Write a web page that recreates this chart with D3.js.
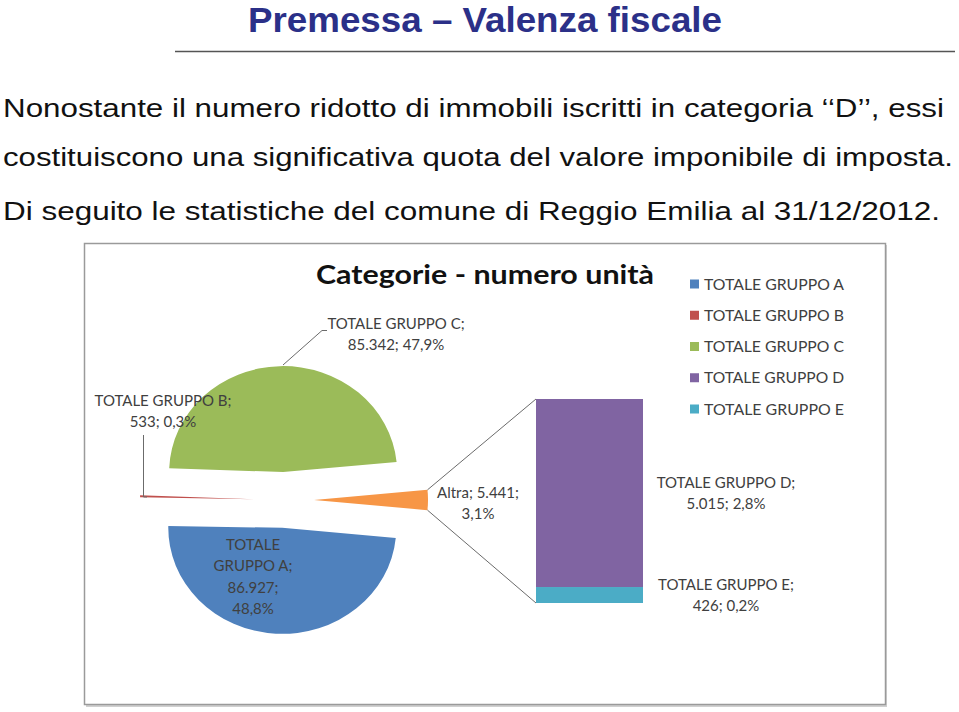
<!DOCTYPE html>
<html><head><meta charset="utf-8">
<script src="https://cdn.jsdelivr.net/npm/d3@7"></script>
<style>html,body{margin:0;padding:0;background:#fff;overflow:hidden}</style>
</head><body>
<svg id="c" width="959" height="712"></svg>
<script>
// ---- data ----
const categories = ["TOTALE GRUPPO A","TOTALE GRUPPO B","TOTALE GRUPPO C","TOTALE GRUPPO D","TOTALE GRUPPO E"];
const values = [86927, 533, 85342, 5015, 426];
const valueLabels = ["86.927","533","85.342","5.015","426"];
const percentLabels = ["48,8%","0,3%","47,9%","2,8%","0,2%"];
const otherName = "Altra";
const otherValue = 5441;
const otherValueLabel = "5.441";
const otherPercentLabel = "3,1%";
const pieCats = [0,1,2];     // indices shown in the pie
const barCats = [3,4];       // indices stacked in the bar ("Altra")
const colors = ["#4F81BD","#C0504D","#9BBB59","#8064A2","#4BACC6"];
const otherColor = "#F79646";
const pageTitle = "Premessa – Valenza fiscale";
const bodyLines = [
  "Nonostante il numero ridotto di immobili iscritti in categoria ‘‘D’’, essi",
  "costituiscono una significativa quota del valore imponibile di imposta.",
  "Di seguito le statistiche del comune di Reggio Emilia al 31/12/2012."
];
const chartTitle = "Categorie - numero unità";

// ---- drawing ----
const svg = d3.select("#c");
const LF = "Lato, 'Open Sans', sans-serif";
const labelColor = "#404040";

// page title
svg.append("text").attr("x",485).attr("y",32).attr("text-anchor","middle")
  .attr("font-family","'Liberation Sans Narrow','Arial Narrow','Liberation Sans',Arial,sans-serif")
  .attr("font-weight","bold").attr("font-size",35).attr("fill","#2B3088")
  .attr("textLength",474).attr("lengthAdjust","spacingAndGlyphs").text(pageTitle);
svg.append("line").attr("x1",175).attr("x2",955).attr("y1",51.5).attr("y2",51.5)
  .attr("stroke","#555").attr("stroke-width",1.5);

const bodyY = [117, 166, 220];
const bodyW = [941, 950, 937];
bodyLines.forEach((t,i)=>{
  svg.append("text").attr("x",3).attr("y",bodyY[i])
    .attr("font-family","'Liberation Sans',Arial,sans-serif").attr("font-size",26)
    .attr("fill","#111").attr("textLength",bodyW[i]).attr("lengthAdjust","spacingAndGlyphs").text(t);
});

// chart frame
svg.append("rect").attr("x",86).attr("y",245).attr("width",801).attr("height",462).attr("fill","#d0d0d0");
svg.append("rect").attr("x",84.5).attr("y",243.5).attr("width",801).attr("height",461)
  .attr("fill","#fff").attr("stroke","#9a9a9a").attr("stroke-width",1.5);

// chart title
svg.append("text").attr("x",485).attr("y",284).attr("text-anchor","middle")
  .attr("font-family",LF).attr("font-weight","bold").attr("font-size",27).attr("fill","#111")
  .attr("textLength",338).attr("lengthAdjust","spacingAndGlyphs").text(chartTitle);

// legend
const legY = d3.scalePoint().domain(categories).range([284,409]);
const leg = svg.append("g");
categories.forEach((c,i)=>{
  leg.append("rect").attr("x",690).attr("y",legY(c)-4.5).attr("width",9).attr("height",9).attr("fill",colors[i]);
  leg.append("text").attr("x",704).attr("y",legY(c)+5.5).attr("font-family",LF).attr("font-size",15)
    .attr("fill",labelColor).attr("textLength",140).attr("lengthAdjust","spacingAndGlyphs").text(c);
});

// pie
const cx = 284, cy = 500, R = 114, squash = 0.93, explode = 30;
const total = d3.sum(values);
const pieData = pieCats.map(i=>({name:categories[i], value:values[i], color:colors[i]}));
pieData.unshift({name:otherName, value:otherValue, color:otherColor});
const half = Math.PI*otherValue/total;
const pie = d3.pie().value(d=>d.value).sort(null)
  .startAngle(Math.PI/2 - half).endAngle(Math.PI/2 - half + 2*Math.PI);
const arcs = pie(pieData);
const arc = d3.arc().innerRadius(0).outerRadius(R);
const pg = svg.append("g").attr("transform",`translate(${cx},${cy}) scale(1,${squash})`);
pg.selectAll("path").data(arcs).enter().append("path")
  .attr("d",arc).attr("fill",d=>d.data.color)
  .attr("transform",d=>{const m=(d.startAngle+d.endAngle)/2;return `translate(${explode*Math.sin(m)},${-explode*Math.cos(m)})`;});

// stacked bar for "Altra"
const y = d3.scaleLinear().domain([0, otherValue]).range([603, 399]);
const barX = d3.scaleBand().domain([otherName]).range([536,643]).padding(0);
let acc = 0;
const stack = barCats.slice().reverse().map(i=>{const s={i, y0:acc, y1:acc+values[i]}; acc+=values[i]; return s;});
svg.append("g").selectAll("rect").data(stack).enter().append("rect")
  .attr("x",barX(otherName)).attr("width",barX.bandwidth())
  .attr("y",d=>y(d.y1)).attr("height",d=>y(d.y0)-y(d.y1)).attr("fill",d=>colors[d.i]);

// connector lines between Altra slice and bar
const oa = arcs[0];
const om = (oa.startAngle+oa.endAngle)/2;
const ox = cx + explode*Math.sin(om);
const pTop = [ox + R*Math.sin(oa.startAngle), cy + squash*(-explode*Math.cos(om) - R*Math.cos(oa.startAngle))];
const pBot = [ox + R*Math.sin(oa.endAngle), cy + squash*(-explode*Math.cos(om) - R*Math.cos(oa.endAngle))];
const lineC = "#6b6b6b";
svg.append("line").attr("x1",pTop[0]).attr("y1",pTop[1]).attr("x2",barX(otherName)).attr("y2",y(otherValue)).attr("stroke",lineC);
svg.append("line").attr("x1",pBot[0]).attr("y1",pBot[1]).attr("x2",barX(otherName)).attr("y2",y(0)).attr("stroke",lineC);

// leader lines
svg.append("polyline").attr("points","327,330.5 322,330.5 283,365").attr("fill","none").attr("stroke",lineC);
svg.append("polyline").attr("points","143.5,435 143.5,497 147,497").attr("fill","none").attr("stroke",lineC);

// data labels
function label(lines, x, yb){
  const t = svg.append("text").attr("font-family",LF).attr("font-size",15).attr("fill",labelColor).attr("text-anchor","middle");
  lines.forEach((l,k)=>t.append("tspan").attr("x",x).attr("y",yb+k*21.3).text(l));
}
label([categories[2]+";", valueLabels[2]+"; "+percentLabels[2]], 396, 328.5);
label([categories[1]+";", valueLabels[1]+"; "+percentLabels[1]], 163, 405.5);
label([otherName+"; "+otherValueLabel+";", otherPercentLabel], 478, 497.5);
label([categories[3]+";", valueLabels[3]+"; "+percentLabels[3]], 726, 488);
label([categories[4]+";", valueLabels[4]+"; "+percentLabels[4]], 726, 590);
label(["TOTALE","GRUPPO A;", valueLabels[0]+";", percentLabels[0]], 253, 550);
</script>
</body></html>
